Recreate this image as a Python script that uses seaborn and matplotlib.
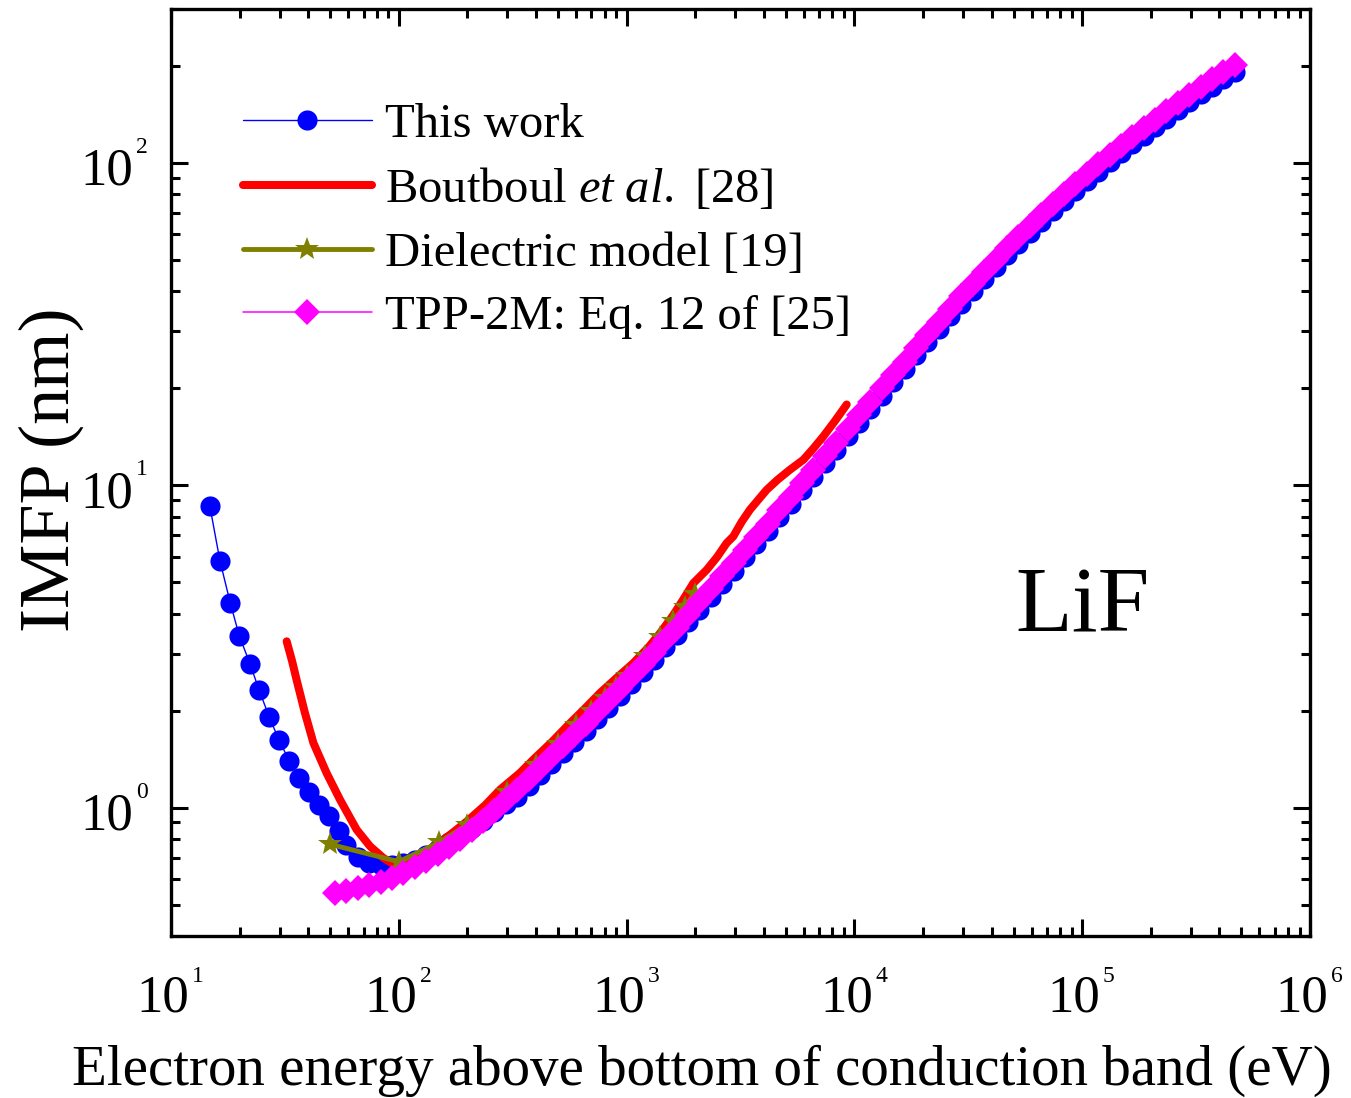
import numpy as np
import matplotlib
matplotlib.use("Agg")
import matplotlib.pyplot as plt
import seaborn as sns
from matplotlib.ticker import FixedLocator, LogLocator, NullFormatter

# ---------------- data ----------------
# This work (blue dots)
this_E = [14.8, 16.4, 18.2, 19.95, 22.2, 24.4, 27.0, 29.8, 33.0, 36.6, 40.4, 44.7, 49.4, 54.8,
          58.9, 66.1, 74.1, 83.2, 93.3, 104.7, 117.5, 131.8, 147.9, 166.0, 186.2, 208.9, 234.4,
          263.0, 295.1, 331.1, 371.5, 416.9, 467.7, 524.8, 588.8, 660.7, 741.3, 831.8, 933.3,
          1047, 1175, 1318, 1479, 1660, 1862, 2089, 2344, 2630, 2951, 3311, 3715, 4169, 4677,
          5248, 5888, 6607, 7413, 8318, 9333, 10470, 11750, 13180, 14790, 16600, 18620, 20890,
          23440, 26300, 29510, 33110, 37150, 41690, 46770, 52480, 58880, 66070, 74130, 83180,
          93330, 104700, 117500, 131800, 147900, 166000, 186200, 208900, 234400, 263000,
          295100, 331100, 371500, 416900, 467700]
this_Y = [8.64, 5.83, 4.32, 3.41, 2.80, 2.31, 1.91, 1.62, 1.40, 1.24, 1.12, 1.02, 0.94, 0.849,
          0.765, 0.703, 0.675, 0.664, 0.662, 0.672, 0.69, 0.715, 0.745, 0.78, 0.82, 0.865, 0.912,
          0.968, 1.03, 1.081, 1.168, 1.262, 1.363, 1.474, 1.597, 1.731, 1.878, 2.041, 2.219,
          2.417, 2.634, 2.876, 3.143, 3.436, 3.759, 4.117, 4.514, 4.952, 5.438, 5.976, 6.572,
          7.230, 7.955, 8.759, 9.64, 10.62, 11.70, 12.89, 14.20, 15.65, 17.23, 18.98, 20.90,
          22.99, 25.29, 27.79, 30.50, 33.45, 36.62, 40.00, 43.65, 47.53, 51.67, 56.05, 60.70,
          65.56, 70.68, 76.10, 81.77, 87.73, 93.96, 100.4, 107.2, 114.2, 121.5, 129.2, 137.2,
          145.4, 154.1, 163.0, 172.3, 181.8, 191.7]

# Boutboul et al. [28] (red line)
bout_E = [32.2, 34.0, 35.6, 38.7, 42.2, 48.2, 55.2, 65.3, 74.8, 85.6, 93.0, 100, 112, 130,
          146.5, 170, 199, 240, 278, 340, 389, 470, 565, 660, 764, 900, 1071, 1250, 1403, 1600,
          1800, 1963, 2249, 2500, 2750, 2940, 3200, 3480, 4120, 4600, 5210, 5970, 6600, 7300,
          8200, 9250]
bout_Y = [3.28, 2.85, 2.49, 1.97, 1.587, 1.281, 1.059, 0.855, 0.759, 0.698, 0.674, 0.668, 0.69,
          0.725, 0.768, 0.83, 0.907, 1.02, 1.137, 1.281, 1.409, 1.60, 1.83, 2.04, 2.268, 2.52,
          2.81, 3.15, 3.48, 3.95, 4.50, 4.97, 5.47, 6.00, 6.62, 6.94, 7.70, 8.40, 9.68, 10.4,
          11.17, 12.0, 13.0, 14.17, 15.8, 17.8]

# Dielectric model [19] (olive stars)
diel_E = [50, 100, 150, 200, 300, 400, 500, 600, 700, 800, 900, 1000, 1200, 1400, 1600, 1800, 2000]
diel_Y = [0.77, 0.68, 0.78, 0.885, 1.12, 1.36, 1.58, 1.80, 2.00, 2.19, 2.37, 2.56, 2.95, 3.38,
          3.80, 4.20, 4.60]

# TPP-2M: Eq. 12 of [25] (magenta diamonds)
tpp_E = [52.5, 58.9, 66.1, 74.1, 83.2, 93.3, 104.7, 117.5, 131.8, 147.9, 166.0, 186.2, 208.9,
         234.4, 263.0, 295.1, 331.1, 371.5, 416.9, 467.7, 524.8, 588.8, 660.7, 741.3, 831.8,
         933.3, 1047, 1175, 1318, 1479, 1660, 1862, 2089, 2344, 2630, 2951, 3311, 3715, 4169,
         4677, 5248, 5888, 6607, 7413, 8318, 9333, 10470, 11750, 13180, 14790, 16600, 18620,
         20890, 23440, 26300, 29510, 33110, 37150, 41690, 46770, 52480, 58880, 66070, 74130,
         83180, 93330, 104700, 117500, 131800, 147900, 166000, 186200, 208900, 234400, 263000,
         295100, 331100, 371500, 416900, 467700]
tpp_Y = [0.545, 0.553, 0.562, 0.574, 0.589, 0.607, 0.628, 0.653, 0.682, 0.716, 0.755, 0.800,
         0.851, 0.910, 0.977, 1.054, 1.138, 1.229, 1.328, 1.435, 1.552, 1.681, 1.822, 1.977,
         2.148, 2.336, 2.544, 2.773, 3.027, 3.308, 3.617, 3.957, 4.334, 4.752, 5.213, 5.724,
         6.291, 6.918, 7.610, 8.374, 9.220, 10.15, 11.18, 12.32, 13.57, 14.95, 16.47, 18.14,
         19.98, 22.00, 24.20, 26.62, 29.25, 32.11, 35.21, 38.55, 42.11, 45.95, 50.03, 54.39,
         59.00, 63.89, 69.01, 74.40, 80.11, 86.07, 92.35, 98.90, 105.7, 112.8, 120.2, 127.9,
         136.0, 144.4, 153.1, 162.2, 171.6, 181.4, 191.4, 201.8]

labels = ["This work", "Boutboul $\\mathit{et\\ al.}$ [28]", "Dielectric model [19]",
          "TPP-2M: Eq. 12 of [25]"]
x_exps = [1, 2, 3, 4, 5, 6]
y_exps = [0, 1, 2]

# ---------------- style ----------------
sns.set_theme(style="ticks", rc={
    "axes.edgecolor": "black", "axes.labelcolor": "black", "text.color": "black",
    "xtick.color": "black", "ytick.color": "black", "axes.linewidth": 2.4,
})
plt.rcParams["font.family"] = ["Liberation Serif", "DejaVu Serif"]
plt.rcParams["mathtext.fontset"] = "custom"
plt.rcParams["mathtext.rm"] = "Liberation Serif"
plt.rcParams["mathtext.it"] = "Liberation Serif:italic"

W, H = 1351, 1098
fig = plt.figure(figsize=(W / 100, H / 100), dpi=100)
L, R, T, B = 171, 1310, 9, 936
ax = fig.add_axes([L / W, 1 - B / H, (R - L) / W, (B - T) / H])
ax.set_xscale("log")
ax.set_yscale("log")

sns.lineplot(x=this_E, y=this_Y, ax=ax, color="#0000FF", lw=1.0, marker="o", markersize=14.5,
             markeredgewidth=0, markeredgecolor="#0000FF", sort=False, estimator=None,
             legend=False, label=labels[0], zorder=1)
sns.lineplot(x=bout_E, y=bout_Y, ax=ax, color="#FF0000", lw=5.8, solid_capstyle="round",
             sort=False, estimator=None, legend=False, label=labels[1], zorder=2)
sns.lineplot(x=diel_E, y=diel_Y, ax=ax, color="#808000", lw=3.5, marker="*", markersize=18,
             markeredgewidth=0, markeredgecolor="#808000", solid_capstyle="round",
             sort=False, estimator=None, legend=False, label=labels[2], zorder=3)
sns.lineplot(x=tpp_E, y=tpp_Y, ax=ax, color="#FF00FF", lw=1.1, marker="D", markersize=13,
             markeredgewidth=0, markeredgecolor="#FF00FF", sort=False, estimator=None,
             legend=False, label=labels[3], zorder=4)

ax.set_xlim(10, 1e6)
ax.set_ylim(0.4, 300)

xticks = [10.0 ** k for k in x_exps]
yticks = [10.0 ** k for k in y_exps]
ax.xaxis.set_major_locator(FixedLocator(xticks))
ax.yaxis.set_major_locator(FixedLocator(yticks))
ax.xaxis.set_minor_locator(LogLocator(base=10, subs=np.arange(2, 10), numticks=50))
ax.yaxis.set_minor_locator(LogLocator(base=10, subs=np.arange(2, 10), numticks=50))
ax.xaxis.set_minor_formatter(NullFormatter())
ax.yaxis.set_minor_formatter(NullFormatter())
ax.tick_params(which="both", direction="in", top=True, right=True, width=2.2,
               labelbottom=False, labelleft=False)
ax.tick_params(which="major", length=12.5)
ax.tick_params(which="minor", length=6.5)

# tick labels as 10 with small exponents
for k, t in zip(x_exps, xticks):
    ax.annotate("10", xy=(t, 0), xycoords=ax.get_xaxis_transform(), xytext=(-5.8, -54),
                textcoords="offset points", ha="center", va="baseline", fontsize=38,
                annotation_clip=False)
    ax.annotate(str(k), xy=(t, 0), xycoords=ax.get_xaxis_transform(), xytext=(15, -33),
                textcoords="offset points", ha="left", va="baseline", fontsize=17,
                annotation_clip=False)
for k, t in zip(y_exps, yticks):
    ax.annotate("10", xy=(0, t), xycoords=ax.get_yaxis_transform(), xytext=(-27, -15.8),
                textcoords="offset points", ha="right", va="baseline", fontsize=38,
                annotation_clip=False)
    ax.annotate(str(k), xy=(0, t), xycoords=ax.get_yaxis_transform(), xytext=(-25, 7.2),
                textcoords="offset points", ha="left", va="baseline", fontsize=17,
                annotation_clip=False)

ax.set_xlabel("Electron energy above bottom of conduction band (eV)", fontsize=41)
ax.xaxis.set_label_coords(0.4658, (B - 1085) / (B - T))
ax.xaxis.label.set_va("baseline")
ax.set_ylabel("IMFP (nm)", fontsize=52)
ax.yaxis.set_label_coords((69 - L) / (R - L), 0.5027)
ax.yaxis.label.set_va("baseline")

ax.text((1015 - L) / (R - L), (B - 632) / (B - T), "LiF", transform=ax.transAxes,
        fontsize=67, ha="left", va="baseline")

ax.legend(loc="upper left", bbox_to_anchor=((243 - L) / (R - L), (B - 103) / (B - T)),
          frameon=False, fontsize=35, handlelength=2.65, handletextpad=0.27,
          labelspacing=0.40, borderpad=0, borderaxespad=0, numpoints=1)

fig.savefig("out.png", dpi=100)
